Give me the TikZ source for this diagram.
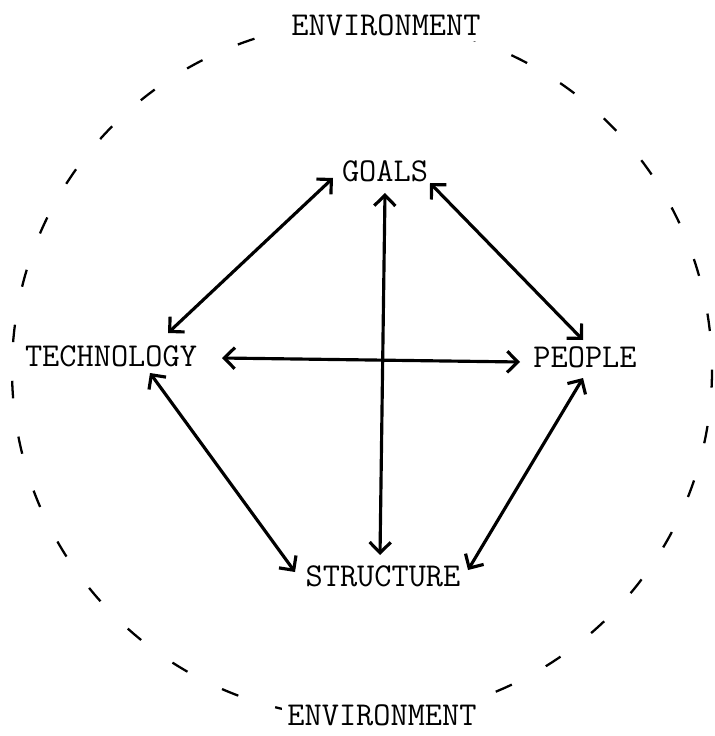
\documentclass[tikz,border=0pt]{standalone}
\usepackage{fontspec}
\usetikzlibrary{arrows.meta,calc}
\tikzset{
  factor/.style={font=\ttfamily\fontsize{19}{23}\selectfont,inner sep=0pt,text height=11pt,text depth=0pt},
  envlabel/.style={factor,fill=white,inner sep=3pt},
  link/.style={{Straight Barb[length=6pt,width=12pt]}-{Straight Barb[length=6pt,width=12pt]},line width=1.8pt}
}
\begin{document}
\begin{tikzpicture}[x=0.02cm,y=-0.02cm]
\useasboundingbox (0,0) rectangle (714,736);
\draw[line width=1.3pt,dash pattern=on 10pt off 22pt] (362,370) ellipse [x radius=350,y radius=348];
\node[envlabel] (envtop) at (386,26) {ENVIRONMENT};
\node[envlabel] (envbot) at (382,716) {ENVIRONMENT};
\node[factor] (goals) at (385,172) {GOALS};
\node[factor] (tech) at (111,357) {TECHNOLOGY};
\node[factor] (people) at (585,358) {PEOPLE};
\node[factor] (struct) at (383,577) {STRUCTURE};
\draw[link] ($(goals)+(-52,6)$) -- ($(tech)+(57,-24)$);
\draw[link] ($(goals)+(45,11)$) -- ($(people)+(-2,-18)$);
\draw[link] ($(tech)+(111,1)$) -- ($(people)+(-65,4)$);
\draw[link] ($(goals)+(0,21)$) -- ($(struct)+(-3,-22)$);
\draw[link] ($(tech)+(39,16)$) -- ($(struct)+(-88,-5)$);
\draw[link] ($(people)+(-2,20)$) -- ($(struct)+(85,-7)$);
\end{tikzpicture}
\end{document}
